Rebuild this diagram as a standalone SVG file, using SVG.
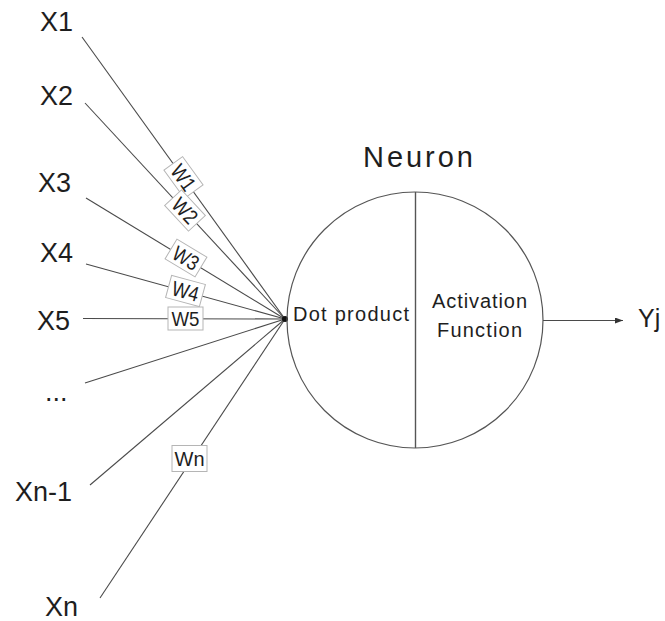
<svg xmlns="http://www.w3.org/2000/svg" width="665" height="621" viewBox="0 0 665 621">
<defs>
<style>
.t{font-family:"Liberation Sans",Arial,sans-serif;fill:#1e1e1e}
.x{font-size:27px}
.c{stroke:#4a4a4a;stroke-width:1.1;fill:none}
.wb{fill:#fff;stroke:#b5b5b5;stroke-width:1}
.w{font-family:"Liberation Sans",Arial,sans-serif;font-size:21px;fill:#1e1e1e;text-anchor:middle}
</style>
<marker id="ah" viewBox="0 0 8 6" refX="8" refY="3" markerWidth="8" markerHeight="6" markerUnits="userSpaceOnUse" orient="auto">
<path d="M0,0 L8,3 L0,6 z" fill="#333"/>
</marker>
</defs>
<rect width="665" height="621" fill="#fff"/>

<g id="connectors">
<line class="c" x1="82" y1="37" x2="285" y2="319"/>
<line class="c" x1="85" y1="103" x2="285" y2="319"/>
<line class="c" x1="86" y1="198" x2="285" y2="319"/>
<line class="c" x1="86" y1="264" x2="285" y2="319"/>
<line class="c" x1="83" y1="318.5" x2="285" y2="319" stroke="#222"/>
<line class="c" x1="85" y1="383" x2="285" y2="319" stroke="#333"/>
<line class="c" x1="90" y1="485" x2="285" y2="319"/>
<line class="c" x1="100" y1="598" x2="285" y2="319"/>
<line class="c" x1="543" y1="320.5" x2="623" y2="320.5" stroke="#222" marker-end="url(#ah)"/>
<circle cx="285" cy="319" r="3" fill="#111"/>
<g id="w1" transform="translate(183.5,177.5) rotate(54.2)"><rect class="wb" x="-17.5" y="-11.5" width="35" height="23"/><text class="w" y="7.5" textLength="27" lengthAdjust="spacingAndGlyphs">W1</text></g>
<g id="w2" transform="translate(185,210.5) rotate(47.1)"><rect class="wb" x="-17.5" y="-11.5" width="35" height="23"/><text class="w" y="7.5" textLength="27" lengthAdjust="spacingAndGlyphs">W2</text></g>
<g id="w3" transform="translate(186,258) rotate(31.1)"><rect class="wb" x="-17.5" y="-11.5" width="35" height="23"/><text class="w" y="7.5" textLength="27" lengthAdjust="spacingAndGlyphs">W3</text></g>
<g id="w4" transform="translate(185.5,291) rotate(15.2)"><rect class="wb" x="-17.5" y="-11.5" width="35" height="23"/><text class="w" y="7.5" textLength="27" lengthAdjust="spacingAndGlyphs">W4</text></g>
<g id="w5" transform="translate(185.5,318.5)"><rect class="wb" x="-17.5" y="-11.5" width="35" height="23"/><text class="w" y="7.5" textLength="28" lengthAdjust="spacingAndGlyphs">W5</text></g>
<g id="wn" transform="translate(189.5,458.5)"><rect class="wb" x="-17.5" y="-13" width="35" height="26"/><text class="w" y="7.5" textLength="30" lengthAdjust="spacingAndGlyphs">Wn</text></g>
</g>

<g id="x1"><text class="t x" x="40" y="31">X1</text></g>
<g id="x2"><text class="t x" x="40" y="105">X2</text></g>
<g id="x3"><text class="t x" x="38" y="192">X3</text></g>
<g id="x4"><text class="t x" x="40" y="262">X4</text></g>
<g id="x5"><text class="t x" x="37" y="330">X5</text></g>
<g id="xdots"><text class="t x" x="45" y="401">...</text></g>
<g id="xn1"><text class="t x" x="15" y="501">Xn-1</text></g>
<g id="xn"><text class="t x" x="45" y="616">Xn</text></g>

<g id="neuron">
<text class="t" x="363" y="167" font-size="29" textLength="110" lengthAdjust="spacing">Neuron</text>
<circle cx="415" cy="320" r="128" fill="none" stroke="#555" stroke-width="1.2"/>
<line x1="415.5" y1="192" x2="415.5" y2="448" stroke="#555" stroke-width="1.4"/>
<text class="t" x="293" y="321" font-size="20" textLength="116" lengthAdjust="spacing">Dot product</text>
<text class="t" x="432" y="308" font-size="20" textLength="95" lengthAdjust="spacing">Activation</text>
<text class="t" x="437" y="337" font-size="20" textLength="85" lengthAdjust="spacing">Function</text>
</g>

<g id="yj"><text class="t" x="638" y="327" font-size="25">Yj</text></g>
</svg>
